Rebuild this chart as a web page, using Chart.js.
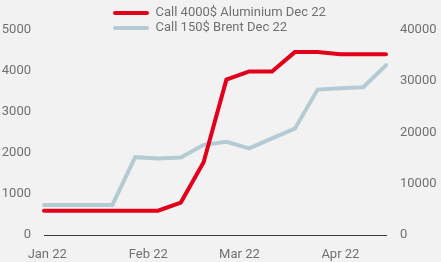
<!DOCTYPE html>
<html>
<head>
<meta charset="utf-8">
<script src="https://cdn.jsdelivr.net/npm/chart.js@4/dist/chart.umd.min.js"></script>
<style>
  html, body { margin: 0; padding: 0; background: #f2f2f2; }
  #wrap { width: 441px; height: 262px; position: relative; }
</style>
</head>
<body>
<div id="wrap"><canvas id="c" width="441" height="262"></canvas></div>
<script>
// Weekly observation dates
const dates = ['2021-12-31','2022-01-07','2022-01-14','2022-01-21','2022-01-28','2022-02-04','2022-02-11','2022-02-18','2022-02-25','2022-03-04','2022-03-11','2022-03-18','2022-03-25','2022-04-01','2022-04-08','2022-04-15'];
// Call 4000$ Aluminium Dec 22 (left axis)
const aluminium = [590,590,590,590,590,590,790,1770,3780,3980,3980,4450,4450,4400,4400,4400];
// Call 150$ Brent Dec 22 (right axis)
const brent = [5850,5850,5850,5850,15150,14900,15100,17550,18150,16850,18800,20700,28300,28550,28750,33050];
// X tick labels and their dates
const xTickDates = ['2022-01-01','2022-02-01','2022-03-01','2022-04-01'];
const xTickLabels = ['Jan 22','Feb 22','Mar 22','Apr 22'];
const seriesNames = ['Call 4000$ Aluminium Dec 22','Call 150$ Brent Dec 22'];

const DAY = 86400000;
const base = Date.UTC(2022,0,1);
const toDay = s => (Date.parse(s + 'T00:00:00Z') - base) / DAY;
const xs = dates.map(toDay);
const tickDays = xTickDates.map(toDay);

const RED = '#e2001a';
const BLUE = '#b5cbd4';
const TXT = '#707070';

Chart.defaults.font.family = 'Roboto, "Open Sans", sans-serif';
Chart.defaults.font.size = 13;
Chart.defaults.color = TXT;

const legendShift = {
  id: 'legendShift',
  beforeDraw(chart) {
    const lg = chart.legend;
    if (lg) { lg.left = 111; lg.right = 441; lg.bottom = lg.top + 40; }
  }
};

new Chart(document.getElementById('c'), {
  type: 'line',
  data: {
    datasets: [
      { label: seriesNames[0], data: xs.map((x,i)=>({x, y: aluminium[i]})), yAxisID: 'yL',
        borderColor: RED, backgroundColor: RED, borderWidth: 4, pointRadius: 0, tension: 0,
        borderCapStyle: 'round', clip: false },
      { label: seriesNames[1], data: xs.map((x,i)=>({x, y: brent[i]})), yAxisID: 'yR',
        borderColor: BLUE, backgroundColor: BLUE, borderWidth: 4, pointRadius: 0, tension: 0,
        borderCapStyle: 'round', clip: false }
    ]
  },
  options: {
    responsive: false,
    animation: false,
    events: [],
    layout: { padding: { top: 4.5, left: 0, right: 0, bottom: 0 } },
    plugins: {
      tooltip: { enabled: false },
      legend: {
        position: 'top',
        align: 'start',
        maxHeight: 26,
        labels: {
          boxWidth: 36,
          boxHeight: 4,
          padding: 2,
          color: TXT,
          useBorderRadius: true,
          borderRadius: 2,
          generateLabels(chart) {
            return Chart.defaults.plugins.legend.labels.generateLabels(chart).map(l => {
              l.fillStyle = l.strokeStyle; l.lineWidth = 0; return l;
            });
          }
        }
      }
    },
    scales: {
      x: {
        type: 'linear',
        min: xs[0],
        max: xs[xs.length - 1],
        grid: { display: false, drawTicks: false },
        border: { display: true, color: '#3a3a3a', width: 1 },
        afterBuildTicks(scale) { scale.ticks = tickDays.map(v => ({ value: v })); },
        afterFit(scale) { scale.height = 27; },
        ticks: {
          autoSkip: false, maxRotation: 0, padding: 12,
          callback(v) { const i = tickDays.indexOf(v); return i >= 0 ? xTickLabels[i] : ''; }
        }
      },
      yL: {
        position: 'left', min: 0, max: 5000,
        grid: { display: false, drawTicks: false },
        border: { display: false },
        afterFit(scale) { scale.width = 44; },
        ticks: { stepSize: 1000, padding: 13, callback: v => String(v) }
      },
      yR: {
        position: 'right', min: 0, max: 40000,
        grid: { display: false, drawTicks: false },
        border: { display: false },
        afterFit(scale) { scale.width = 55; },
        ticks: { stepSize: 10000, padding: 14, callback: v => String(v) }
      }
    }
  },
  plugins: [legendShift]
});
</script>
</body>
</html>
